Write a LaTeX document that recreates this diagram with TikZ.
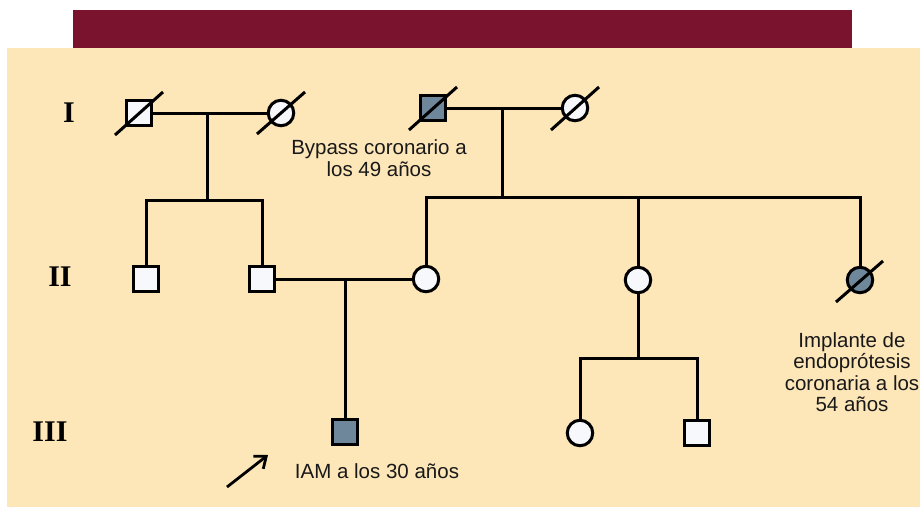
\documentclass[tikz,border=0pt]{standalone}
\usepackage{fontspec}
\setmainfont{Liberation Sans}
\newfontfamily\romfont{Liberation Serif}
\usetikzlibrary{arrows.meta}
\definecolor{banner}{RGB}{122,19,46}
\definecolor{paper}{RGB}{253,230,184}
\definecolor{affect}{RGB}{111,135,155}
\definecolor{unaff}{RGB}{246,248,252}

\begin{document}
\begin{tikzpicture}[x=1pt,y=-1pt,>={Straight Barb[length=10pt,width=16pt]},
  male/.style={draw,line width=3pt,fill=unaff,minimum size=24.5pt,inner sep=0pt},
  female/.style={circle,draw,line width=3pt,fill=unaff,minimum size=25.5pt,inner sep=0pt},
  affected/.style={fill=affect},
  link/.style={line width=3pt},
  slash/.style={line width=3pt},
  gen/.style={font=\romfont\bfseries\fontsize{30}{32}\selectfont},
  note/.style={align=center,text=black!90,font=\fontsize{20.5}{21.5}\selectfont}]
\useasboundingbox (0,0) rectangle (920,507);
\fill[white] (0,0) rectangle (920,507);
\fill[paper] (7,48) rectangle (920,507);
\fill[banner] (73,10) rectangle (852,48);
% generation I
\node[male] (i1) at (139,113) {};
\node[female] (i2) at (281,113) {};
\node[male,affected] (i3) at (433,108) {};
\node[female] (i4) at (575,108) {};
% generation II
\node[male] (ii1) at (146,279) {};
\node[male] (ii2) at (262,279) {};
\node[female] (ii3) at (426,279) {};
\node[female] (ii5) at (638,280) {};
\node[female,affected] (ii6) at (860,280) {};
% generation III
\node[male,affected] (iii1) at (345,432) {};
\node[female] (iii2) at (580,433) {};
\node[male] (iii3) at (697,433) {};
\coordinate (c1) at (207,113);
\coordinate (s1) at (207,200);
\coordinate (c2) at (502,108);
\coordinate (s2) at (502,197);
\coordinate (c3) at (345,279);
\coordinate (s3) at (638,358);
\draw[link] (i1) -- (i2);
\draw[link] (c1) -- (s1);
\draw[link] (ii1) |- (s1) -| (ii2);
\draw[link] (i3) -- (i4);
\draw[link] (c2) -- (s2);
\draw[link] (ii3) |- (s2) -| (ii6);
\draw[link] (ii5) -- (ii5 |- s2);
\draw[link] (ii2) -- (ii3);
\draw[link] (c3) -- (iii1);
\draw[link] (ii5) -- (s3);
\draw[link] (iii2) |- (s3) -| (iii3);
\draw[slash] ([shift={(-24,22)}]i1.center) -- ([shift={(24,-21)}]i1.center);
\draw[slash] ([shift={(-24,21)}]i2.center) -- ([shift={(24,-21)}]i2.center);
\draw[slash] ([shift={(-24,22)}]i3.center) -- ([shift={(24,-21)}]i3.center);
\draw[slash] ([shift={(-24,22)}]i4.center) -- ([shift={(24,-21)}]i4.center);
\draw[slash] ([shift={(-24,22)}]ii6.center) -- ([shift={(23,-19)}]ii6.center);
\coordinate (a0) at (227,487);
\coordinate (a1) at (268,455);
\draw[->,line width=2.8pt] (a0) -- (a1);
\node[gen] (g1) at (69,113) {I};
\node[gen] (g2) at (60,277) {II};
\node[gen] (g3) at (50,432) {III};
\node[note] (t1) at (379,158) {Bypass coronario a\\los 49 años};
\node[note] (t2) at (852,372) {Implante de\\endoprótesis\\coronaria a los\\54 años};
\node[note] (t3) at (377,471) {IAM a los 30 años};
\end{tikzpicture}
\end{document}
